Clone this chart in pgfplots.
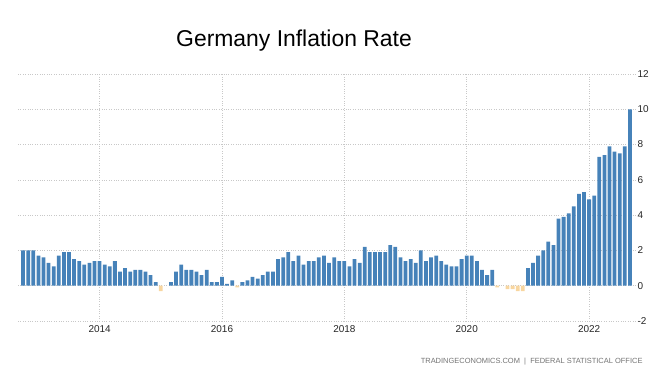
\documentclass[border=0pt]{standalone}
\usepackage{fontspec}
\setmainfont{Liberation Sans}
\usepackage{pgfplots}
\pgfplotsset{compat=1.18}
\definecolor{barblue}{RGB}{70,130,185}
\definecolor{barneg}{RGB}{248,214,160}
\definecolor{gridgray}{RGB}{200,200,200}
\begin{document}
\begin{tikzpicture}
\path[use as bounding box] (0bp,0bp) rectangle (660bp,382bp);
\begin{axis}[
 at={(18bp,61bp)}, anchor=south west,
 scale only axis, width=617bp, height=247bp,
 xmin=-1, xmax=120, ymin=-2, ymax=12,
 ytick={-2,0,2,4,6,8,10,12},
 xtick={15,39,63,87,111},
 xticklabels={2014,2016,2018,2020,2022},
 yticklabel pos=right,
 axis line style={draw=none},
 major tick length=0pt,
 grid=major,
 grid style={dotted, gridgray, line width=0.7pt},
 ticklabel style={font=\fontsize{10}{12}\selectfont, text=black!85},
 /pgf/number format/assume math mode=true,
 xticklabel style={yshift=-1bp},
 yticklabel style={xshift=-1bp},
 ybar, bar width=0.74, bar shift=0pt,
 clip=false
]
\addplot[fill=barblue, draw=none] coordinates {
(0,2.0)(1,2.0)(2,2.0)(3,1.7)(4,1.6)(5,1.3)(6,1.1)(7,1.7)(8,1.9)(9,1.9)
(10,1.5)(11,1.4)(12,1.2)(13,1.3)(14,1.4)(15,1.4)(16,1.2)(17,1.1)(18,1.4)(19,0.8)
(20,1.0)(21,0.8)(22,0.9)(23,0.9)(24,0.8)(25,0.6)(26,0.2)
(29,0.2)(30,0.8)(31,1.2)(32,0.9)(33,0.9)(34,0.8)(35,0.6)(36,0.9)(37,0.2)(38,0.2)(39,0.5)
(40,0.1)(41,0.3)(43,0.2)(44,0.3)(45,0.5)(46,0.4)(47,0.6)(48,0.8)(49,0.8)
(50,1.5)(51,1.6)(52,1.9)(53,1.4)(54,1.7)(55,1.2)(56,1.4)(57,1.4)(58,1.6)(59,1.7)
(60,1.3)(61,1.6)(62,1.4)(63,1.4)(64,1.1)(65,1.5)(66,1.3)(67,2.2)(68,1.9)(69,1.9)
(70,1.9)(71,1.9)(72,2.3)(73,2.2)(74,1.6)(75,1.4)(76,1.5)(77,1.3)(78,2.0)(79,1.4)
(80,1.6)(81,1.7)(82,1.4)(83,1.2)(84,1.1)(85,1.1)(86,1.5)(87,1.7)(88,1.7)(89,1.4)
(90,0.9)(91,0.6)(92,0.9)
(99,1.0)(100,1.3)(101,1.7)(102,2.0)(103,2.5)(104,2.3)(105,3.8)(106,3.9)(107,4.1)(108,4.5)(109,5.2)
(110,5.3)(111,4.9)(112,5.1)(113,7.3)(114,7.4)(115,7.9)(116,7.6)(117,7.5)(118,7.9)(119,10.0)
};
\addplot[fill=barneg, draw=none] coordinates {
(27,-0.3)(42,-0.1)(93,-0.1)(95,-0.2)(96,-0.2)(97,-0.3)(98,-0.3)
};
\end{axis}
\node[font=\fontsize{23}{27}\selectfont] at (294bp,341bp) {Germany Inflation Rate};
\node[anchor=east, font=\fontsize{7.5}{9}\selectfont, text=black!55] at (646bp,20bp) {TRADINGECONOMICS.COM\ \ |\ \ FEDERAL STATISTICAL OFFICE};
\end{tikzpicture}
\end{document}
